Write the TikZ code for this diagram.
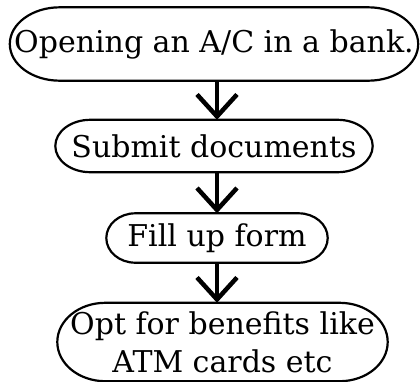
\documentclass[tikz,border=0pt]{standalone}
\usepackage{fontspec}
\setmainfont{DejaVu Serif}
\usetikzlibrary{arrows.meta,calc}
\newcommand\ovalframe[2]{%
  \draw[line width=2.2pt] let \p1=(#1.north), \p2=(#1.south), \n1={abs(\y1-\y2)/2} in
    ([xshift=#2]#1.north west) -- ([xshift=-#2]#1.north east)
    arc[start angle=90,end angle=-90,x radius=#2,y radius=\n1]
    -- ([xshift=#2]#1.south west)
    arc[start angle=270,end angle=90,x radius=#2,y radius=\n1] -- cycle;}
\begin{document}
\begin{tikzpicture}[x=1pt,y=-1pt,
  flowbox/.style={inner sep=0pt,align=center,
    font=\fontsize{30}{38}\selectfont},
  flowarrow/.style={line width=4pt,-{Straight Barb[length=22pt,width=40pt,line width=4.5pt]}}]
\useasboundingbox (0,0) rectangle (420,381);
\node[flowbox,minimum width=408pt,minimum height=73pt] (b1) at (214,44) {Opening an A/C in a bank.};
\node[flowbox,minimum width=317pt,minimum height=52pt] (b2) at (214,146) {Submit documents};
\node[flowbox,minimum width=221pt,minimum height=49pt] (b3) at (217,238) {Fill up form};
\node[flowbox,minimum width=330pt,minimum height=78pt] (b4) at (222.5,342) {Opt for benefits like\\ATM cards etc};
\ovalframe{b1}{50pt}
\ovalframe{b2}{35pt}
\ovalframe{b3}{29pt}
\ovalframe{b4}{48pt}
\draw[flowarrow] (b1.south -| b3) -- (b2.north -| b3);
\draw[flowarrow] (b2.south -| b3) -- (b3.north);
\draw[flowarrow] (b3.south) -- (b4.north -| b3);
\end{tikzpicture}
\end{document}
